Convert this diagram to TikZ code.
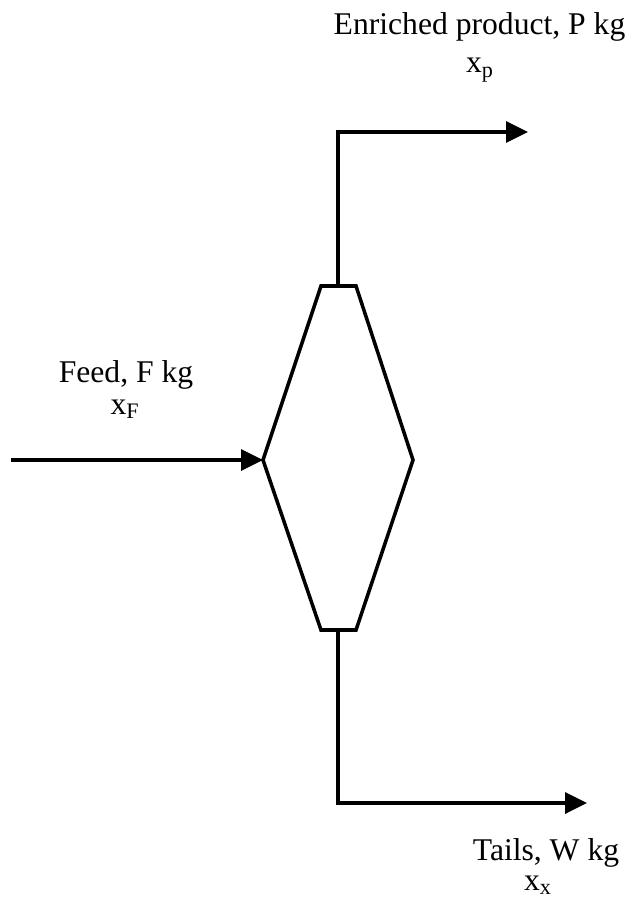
\documentclass[tikz,border=0pt]{standalone}
\usepackage{fontspec}
\setmainfont{Liberation Serif}
\usetikzlibrary{arrows.meta}

\begin{document}
\begin{tikzpicture}[x=0.02cm, y=-0.02cm, unit/.style={line width=2pt, line join=miter}, stream/.style={line width=2pt, -{Triangle[length=0.44cm, width=0.42cm]}}, tag/.style={font=\fontsize{18}{20}\selectfont, inner sep=0pt, anchor=base}]
  \useasboundingbox (0,0) rectangle (630,905);
  % separator
  \coordinate (TL) at (321,286);
  \coordinate (TR) at (356,286);
  \coordinate (R) at (413,460);
  \coordinate (BR) at (356,630);
  \coordinate (BL) at (321,630);
  \coordinate (L) at (263,460);
  \draw[unit] (TL) -- (TR) -- (R) -- (BR) -- (BL) -- (L) -- cycle;
  \coordinate (top) at (338,286);
  \coordinate (bot) at (338,630);
  % streams
  \coordinate (feedin) at (11,460);
  \coordinate (prodout) at (528,132);
  \coordinate (tailsout) at (587,803);
  \draw[stream] (feedin) -- (L);
  \draw[stream] (top) |- (prodout);
  \draw[stream] (bot) |- (tailsout);
  % labels
  \node[tag] (prod) at (479.5,35) {Enriched product, P kg};
  \node[tag] (xp) at (480,73) {x\textsubscript{p}};
  \node[tag] (feed) at (126,382) {Feed, F kg};
  \node[tag] (xF) at (125,414) {x\textsubscript{F}};
  \node[tag] (tails) at (546,860) {Tails, W kg};
  \node[tag] (xx) at (538,890) {x\textsubscript{x}};
\end{tikzpicture}
\end{document}
